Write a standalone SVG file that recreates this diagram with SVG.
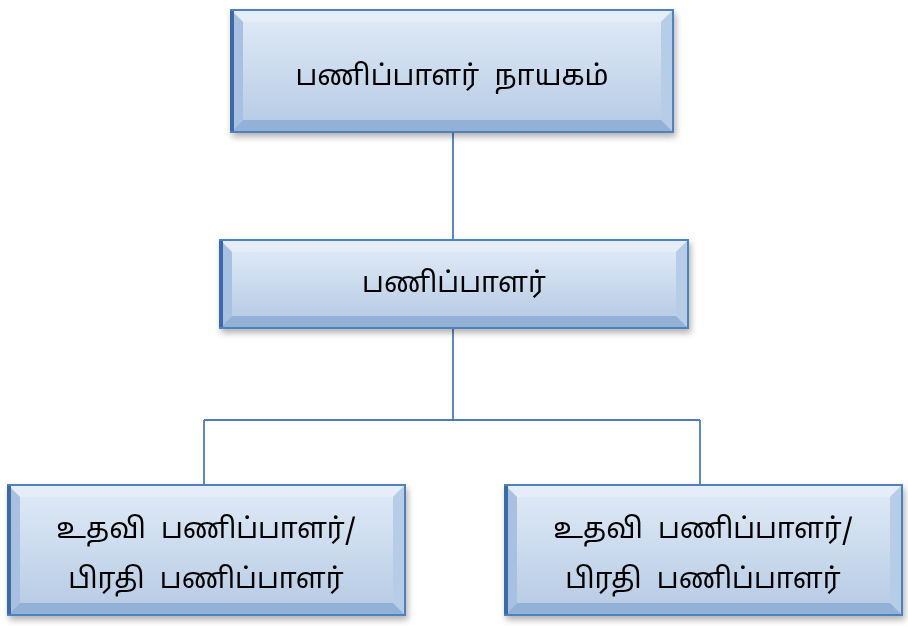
<svg xmlns="http://www.w3.org/2000/svg" width="908" height="629" viewBox="0 0 908 629">
<defs>
<linearGradient id="face" x1="0" y1="0" x2="0" y2="1"><stop offset="0" stop-color="#dde8f5"/><stop offset="1" stop-color="#b9cde6"/></linearGradient>
<filter id="sh" x="-5%" y="-5%" width="110%" height="120%"><feDropShadow dx="2" dy="4" stdDeviation="3" flood-color="#000" flood-opacity="0.3"/></filter>
</defs>
<style>
.t{fill:#e4edf8}.l{fill:#a9c1e0}.r{fill:#b7cce6}.b{fill:#93b0d6}
.f{fill:url(#face)}
.o{fill:none;stroke:#4f81bd;stroke-width:2}
.ol{stroke:#3a6aa8;stroke-width:4}
text{font-family:"Noto Sans Tamil","Lohit Tamil","Noto Sans",sans-serif;font-size:28px;word-spacing:8px;fill:#000;text-anchor:middle}
.c{stroke:#4a7ebb;stroke-width:1.8;fill:none}
</style>
<g id="connectors">
<path class="c" d="M453 132V240M453 328V420M204 420H700M204 420V485M700 420V485"/>
</g>
<g id="n1" filter="url(#sh)">
<polygon class="t" points="231,10 673,10 661,22 243,22"/><polygon class="l" points="231,10 243,22 243,120 231,132"/><polygon class="r" points="673,10 673,132 661,120 661,22"/><polygon class="b" points="231,132 243,120 661,120 673,132"/>
<rect class="f" x="243" y="22" width="418" height="98"/><rect class="o" x="231" y="10" width="442" height="122"/><line class="ol" x1="232" y1="11" x2="232" y2="131"/>
<text x="452" y="85">பணிப்பாளர் நாயகம்</text>
</g>
<g id="n2" filter="url(#sh)">
<polygon class="t" points="220,240 688,240 676,252 232,252"/><polygon class="l" points="220,240 232,252 232,316 220,328"/><polygon class="r" points="688,240 688,328 676,316 676,252"/><polygon class="b" points="220,328 232,316 676,316 688,328"/>
<rect class="f" x="232" y="252" width="444" height="64"/><rect class="o" x="220" y="240" width="468" height="88"/><line class="ol" x1="221" y1="241" x2="221" y2="327"/>
<text x="454" y="292">பணிப்பாளர்</text>
</g>
<g id="n3" filter="url(#sh)">
<polygon class="t" points="8,485 405,485 393,497 20,497"/><polygon class="l" points="8,485 20,497 20,603 8,615"/><polygon class="r" points="405,485 405,615 393,603 393,497"/><polygon class="b" points="8,615 20,603 393,603 405,615"/>
<rect class="f" x="20" y="497" width="373" height="106"/><rect class="o" x="8" y="485" width="397" height="130"/><line class="ol" x1="9" y1="486" x2="9" y2="614"/>
<text x="206" y="538">உதவி பணிப்பாளர்/</text><text x="206" y="588">பிரதி பணிப்பாளர்</text>
</g>
<g id="n4" filter="url(#sh)">
<polygon class="t" points="505,485 902,485 890,497 517,497"/><polygon class="l" points="505,485 517,497 517,603 505,615"/><polygon class="r" points="902,485 902,615 890,603 890,497"/><polygon class="b" points="505,615 517,603 890,603 902,615"/>
<rect class="f" x="517" y="497" width="373" height="106"/><rect class="o" x="505" y="485" width="397" height="130"/><line class="ol" x1="506" y1="486" x2="506" y2="614"/>
<text x="703" y="538">உதவி பணிப்பாளர்/</text><text x="703" y="588">பிரதி பணிப்பாளர்</text>
</g>
</svg>
